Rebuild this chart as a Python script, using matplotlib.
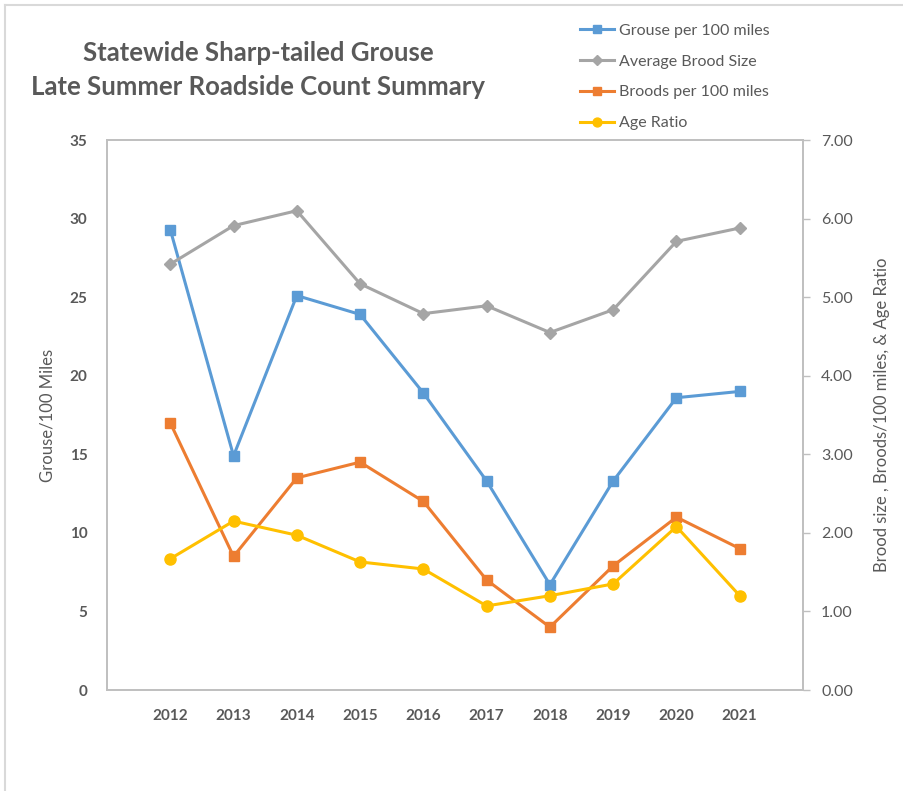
import matplotlib
matplotlib.use("Agg")
import matplotlib.pyplot as plt
from matplotlib.lines import Line2D

years = ["2012", "2013", "2014", "2015", "2016", "2017", "2018", "2019", "2020", "2021"]
grouse_per_100 = [29.3, 14.9, 25.1, 23.9, 18.9, 13.3, 6.7, 13.3, 18.6, 19.0]
avg_brood_size = [5.42, 5.91, 6.10, 5.17, 4.79, 4.89, 4.55, 4.84, 5.71, 5.88]
broods_per_100 = [3.40, 1.70, 2.70, 2.90, 2.40, 1.40, 0.80, 1.58, 2.20, 1.80]
age_ratio = [1.67, 2.15, 1.97, 1.63, 1.54, 1.07, 1.20, 1.35, 2.08, 1.20]

left_ticks = [0, 5, 10, 15, 20, 25, 30, 35]
right_ticks = [0, 1, 2, 3, 4, 5, 6, 7]

plt.rcParams['font.family'] = ['Lato', 'DejaVu Sans']

BLUE = "#5B9BD5"
GRAY = "#A5A5A5"
ORANGE = "#ED7D31"
YELLOW = "#FFC000"
TXT = "#595959"
AXC = "#BFBFBF"

fig = plt.figure(figsize=(9.04, 7.91), dpi=100)
ax = fig.add_axes([107/904, 1-690/791, (803-107)/904, (690-140)/791])
ax2 = ax.twinx()

x = list(range(len(years)))
lw = 2.2
h1, = ax.plot(x, grouse_per_100, color=BLUE, lw=lw, marker='s', ms=7, label="Grouse per 100 miles")
h2, = ax2.plot(x, avg_brood_size, color=GRAY, lw=lw, marker='D', ms=6, label="Average Brood Size")
h3, = ax2.plot(x, broods_per_100, color=ORANGE, lw=lw, marker='s', ms=7, label="Broods per 100 miles")
h4, = ax2.plot(x, age_ratio, color=YELLOW, lw=lw, marker='o', ms=8, label="Age Ratio")

ax.set_xlim(-1, len(years))
ax.set_ylim(0, 35)
ax2.set_ylim(0, 7)
ax.set_yticks(left_ticks)
ax.set_yticklabels([str(t) for t in left_ticks], fontsize=11, fontweight='bold', color=TXT)
ax2.set_yticks(right_ticks)
ax2.set_yticklabels([f"{t:.2f}" for t in right_ticks], fontsize=11.5, color=TXT)
ax.set_xticks(x)
ax.set_xticklabels(years, fontsize=11, fontweight='bold', color=TXT)

ax.tick_params(axis='y', length=0, pad=14)
ax.tick_params(axis='x', length=0, pad=14)
ax2.tick_params(axis='y', length=5, color=AXC, width=1, pad=8, direction='out')

for a in (ax, ax2):
    for s in a.spines.values():
        s.set_color(AXC)
        s.set_linewidth(1.2)

ax.set_ylabel("Grouse/100 Miles", fontsize=12, color=TXT, labelpad=10)
ax2.set_ylabel("Brood size , Broods/100 miles, & Age Ratio", fontsize=12, color=TXT, labelpad=15)

fig.text(258/904, 1-53/791, "Statewide Sharp-tailed Grouse", ha='center', va='center',
         fontsize=18.5, fontweight='bold', color=TXT)
fig.text(258/904, 1-87/791, "Late Summer Roadside Count Summary", ha='center', va='center',
         fontsize=18.5, fontweight='bold', color=TXT)

fig.legend(handles=[h1, h2, h3, h4], loc='upper left', bbox_to_anchor=(566/904, 1-9/791),
           frameon=False, fontsize=11.5, labelcolor=TXT, handlelength=2.1, handletextpad=0.3,
           labelspacing=1.05, markerscale=0.8)

fig.add_artist(Line2D([5/904, 1], [1-5/791, 1-5/791], color="#D9D9D9", lw=1.5))
fig.add_artist(Line2D([5/904, 5/904], [0, 1-5/791], color="#D9D9D9", lw=1.5))

fig.savefig("out.png", dpi=100)
